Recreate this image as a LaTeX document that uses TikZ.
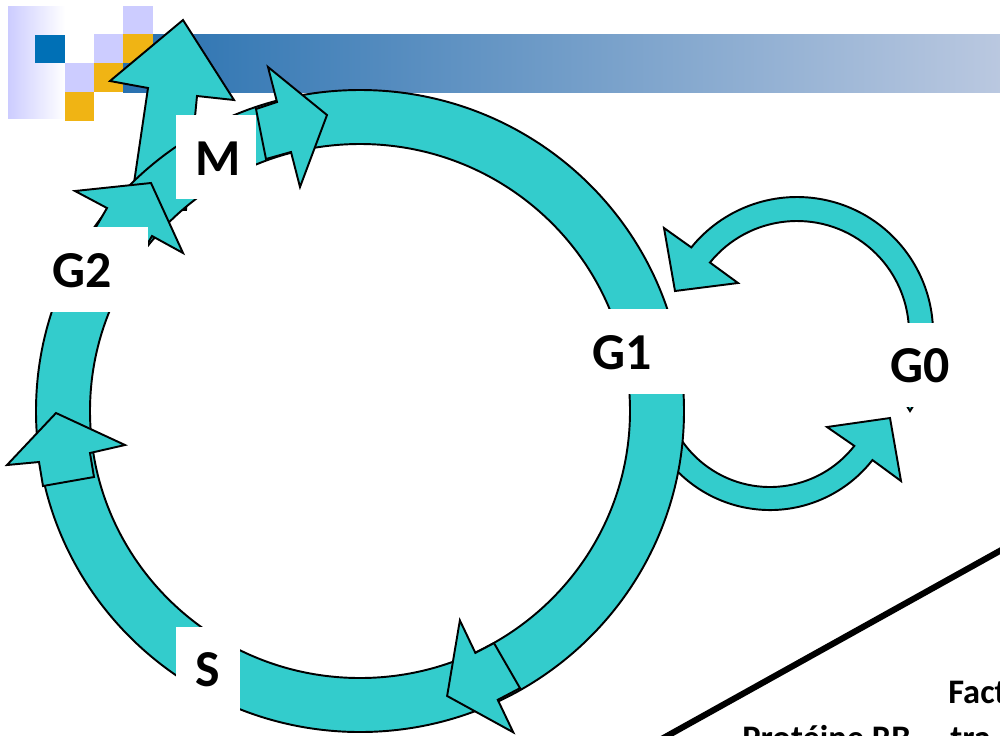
\documentclass[tikz,border=0pt]{standalone}
\usepackage{fontspec}
\setmainfont{Carlito}
\usetikzlibrary{calc}
\definecolor{cyanf}{RGB}{51,204,204}
\definecolor{lav}{RGB}{204,204,255}
\definecolor{sqblue}{RGB}{0,112,182}
\definecolor{sqyel}{RGB}{240,180,20}
\definecolor{barL}{RGB}{40,113,176}
\definecolor{barR}{RGB}{186,200,224}
\begin{document}
\begin{tikzpicture}[x=0.02cm,y=-0.02cm,
  blk/.style={fill=cyanf, draw=black, line width=1.1pt, line join=miter},
  labelbox/.style={fill=white},
  lbl/.style={font=\fontsize{29.5}{30}\selectfont\bfseries, inner sep=0pt},
  note/.style={font=\fontsize{19.6}{21}\selectfont\bfseries, inner sep=0pt}]
\useasboundingbox (0,0) rectangle (1000,735);
\fill[white] (0,0) rectangle (1000,735);
% decoration
\fill[left color=lav, right color=white] (8,6) rectangle (65,118);
\fill[left color=barL, right color=barR] (123,34) rectangle (1000,92);
\fill[sqblue] (35,35) rectangle (65,63);
\fill[lav] (65,63) rectangle (94,92);
\fill[sqyel] (65,92) rectangle (94,121);
\fill[lav] (94,34) rectangle (123,63);
\fill[sqyel] (94,63) rectangle (123,92);
\fill[lav] (123,6) rectangle (153,34);
\fill[sqyel] (123,34) rectangle (153,63);
% G0 loop arrows
\filldraw[blk] (770,380) ++(155:130) arc[start angle=155, end angle=38, radius=130]
  -- (901,481) -- (890,418) -- (827,427) -- ($(770,380)+(38:107)$)
  arc[start angle=38, end angle=155, radius=107] -- cycle;
\filldraw[blk] (797,333) ++(10:136) arc[start angle=10, end angle=-141, radius=136]
  -- (664,228) -- (675,291) -- (738,283) -- ($(797,333)+(-141:112)$)
  arc[start angle=-141, end angle=10, radius=112] -- cycle;
\filldraw[blk] (900,395) -- (920,395) -- (910,411) -- cycle;
% up arrow (M exit)
\filldraw[blk] (183,20) -- (234,100) -- (197,96) -- (186,210) -- (130,210) -- (148,88) -- (110,81) -- cycle;
% main ring
\filldraw[blk, even odd rule] (360,411) ellipse[x radius=324, y radius=321] (360,411) ellipse[x radius=270, y radius=267];
% arrowheads on ring
\filldraw[blk] (268,67) -- (327,115) -- (300,187) -- (291,152) -- (266,159) -- (256,109) -- (277,102) -- cycle;
\filldraw[blk] (56,413) -- (125,445) -- (90,453) -- (94,477) -- (43,486) -- (39,462) -- (7,465) -- cycle;
\begin{scope}[shift={(360,411)}]
\filldraw[blk] (73:298) -- (64.5:232) -- (64.5:268) -- (60:268) -- (60:320) -- (64.5:320) -- (64.5:356) -- cycle;
\end{scope}
\filldraw[blk] (107,208) -- (75,191) -- (151,183) -- (183,253) -- (152,236) -- (137,262) -- (92,234) -- cycle;
% label boxes
\fill[labelbox] (176,115) rectangle (256,199);
\fill[labelbox] (30,227) rectangle (148,312);
\fill[labelbox] (176,627) rectangle (240,740);
\fill[labelbox] (578,309) rectangle (692,394);
\fill[labelbox] (868,323) rectangle (962,407);
\node[lbl, anchor=base] (tM) at (218,175) {M};
\node[lbl, anchor=base] (tG2) at (82,287) {G2};
\node[lbl, anchor=base] (tS) at (208,686) {S};
\node[lbl, anchor=base] (tG1) at (622,369) {G1};
\node[lbl, anchor=base] (tG0) at (920,382) {G0};
% diagonal line and texts
\coordinate (lA) at (658,741);
\coordinate (lB) at (1005,548);
\draw[line width=3.5pt] (lA) -- (lB);
\node[note, anchor=base west] (fact) at (948,703) {Fact};
\node[note, anchor=base west] (prot) at (742,749) {Protéine RB};
\node[note, anchor=base west] (tra) at (950,749) {tra};
\end{tikzpicture}
\end{document}
